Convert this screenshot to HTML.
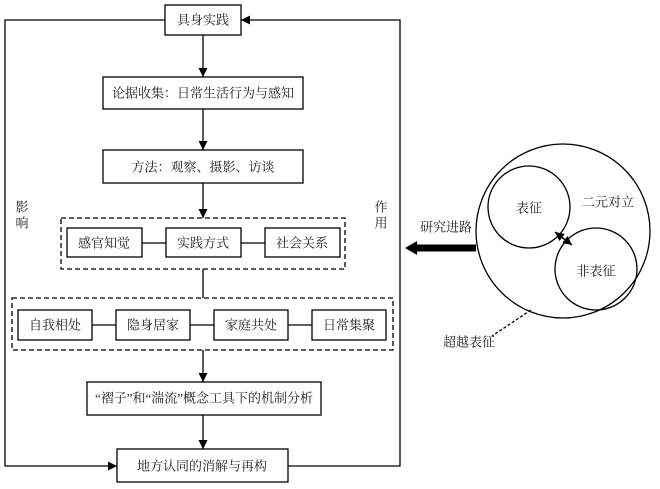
<!DOCTYPE html>
<html><head><meta charset="utf-8"><style>
body{margin:0;background:#fff;}
svg{display:block;font-family:"Liberation Serif","Noto Serif CJK SC",serif;}
text{font-size:13px;fill:#222;text-anchor:middle;dominant-baseline:central;}
</style></head><body>
<svg width="660" height="489" viewBox="0 0 660 489">
<defs><marker id="a" viewBox="0 0 10 10" refX="10" refY="5" markerWidth="9" markerHeight="9" markerUnits="userSpaceOnUse" orient="auto"><path d="M0,0L10,5L0,10z" fill="#000"/></marker>
<marker id="b" viewBox="0 0 10 10" refX="10" refY="5" markerWidth="9" markerHeight="9" markerUnits="userSpaceOnUse" orient="auto-start-reverse"><path d="M0,0L10,5L0,10z" fill="#000"/></marker></defs>
<g stroke="#000" stroke-width="1.3" fill="none">
<rect x="165" y="5" width="76" height="30"/>
<rect x="103" y="77" width="200" height="32"/>
<rect x="103" y="150" width="200" height="33"/>
<rect x="61" y="218" width="284" height="51" stroke-dasharray="5,3"/>
<rect x="67" y="228" width="75" height="29"/>
<rect x="166" y="228" width="75" height="29"/>
<rect x="265" y="228" width="75" height="29"/>
<line x1="142" y1="243" x2="166" y2="243"/><line x1="241" y1="243" x2="265" y2="243"/>
<rect x="12" y="298" width="381" height="52" stroke-dasharray="5,3"/>
<rect x="18" y="310" width="74" height="30"/>
<rect x="116" y="310" width="74" height="30"/>
<rect x="214" y="310" width="74" height="30"/>
<rect x="312" y="310" width="74" height="30"/>
<line x1="92" y1="325" x2="116" y2="325"/><line x1="190" y1="325" x2="214" y2="325"/><line x1="288" y1="325" x2="312" y2="325"/>
<rect x="87" y="382" width="234" height="33"/>
<rect x="117" y="449" width="171" height="33"/>
<line x1="203" y1="35" x2="203" y2="77" marker-end="url(#a)"/>
<line x1="203" y1="109" x2="203" y2="150" marker-end="url(#a)"/>
<line x1="203" y1="183" x2="203" y2="218" marker-end="url(#a)"/>
<line x1="203" y1="269" x2="203" y2="298"/>
<line x1="203" y1="350" x2="203" y2="382" marker-end="url(#a)"/>
<line x1="203" y1="415" x2="203" y2="449" marker-end="url(#a)"/>
<polyline points="165,20 5,20 5,466 117,466" marker-end="url(#a)"/>
<polyline points="288,466 400,466 400,20 241,20" marker-end="url(#a)"/>
<circle cx="563" cy="231" r="87"/>
<circle cx="529" cy="207" r="41"/>
<circle cx="596" cy="269" r="41"/>
<line x1="555" y1="232" x2="572" y2="245" marker-end="url(#b)" marker-start="url(#b)" stroke-width="1.5"/>
<line x1="531" y1="310" x2="492" y2="336" stroke-dasharray="3,2"/>
<line x1="476" y1="248" x2="414" y2="248" stroke-width="7"/>
</g>
<path d="M417,241L405,248L417,255z" fill="#000"/>
<text x="203" y="20">具身实践</text>
<text x="203" y="93">论据收集：日常生活行为与感知</text>
<text x="203" y="167">方法：观察、摄影、访谈</text>
<text x="104" y="243">感官知觉</text>
<text x="203" y="243">实践方式</text>
<text x="302" y="243">社会关系</text>
<text x="55" y="325">自我相处</text>
<text x="153" y="325">隐身居家</text>
<text x="251" y="325">家庭共处</text>
<text x="349" y="325">日常集聚</text>
<text x="204" y="398">“褶子”和“湍流”概念工具下的机制分析</text>
<text x="202" y="466">地方认同的消解与再构</text>
<text x="22" y="207">影</text><text x="22" y="223">响</text>
<text x="381" y="207">作</text><text x="381" y="223">用</text>
<text x="529" y="208">表征</text>
<text x="596" y="271">非表征</text>
<text x="608" y="202">二元对立</text>
<text x="446" y="227">研究进路</text>
<text x="469" y="342">超越表征</text>
</svg>
</body></html>
